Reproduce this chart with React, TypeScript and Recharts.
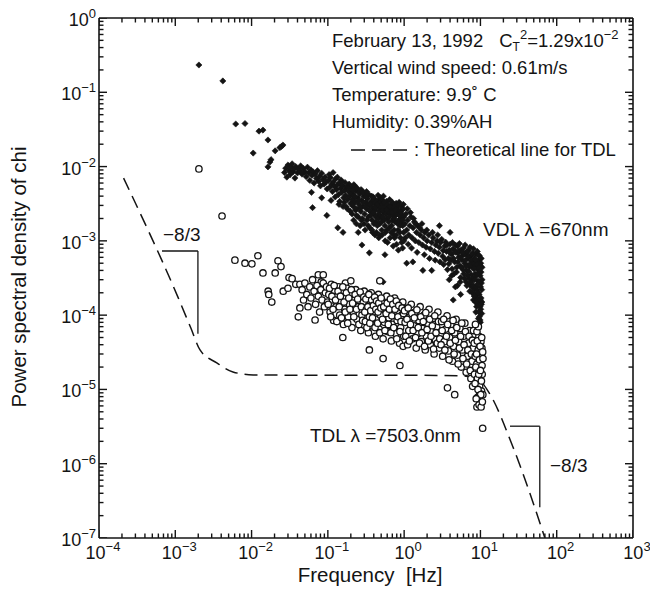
import React from "react";
import { ScatterChart, Scatter, XAxis, YAxis, ReferenceLine } from "recharts";

// axis ticks (log decades)
const xMajor = [1e-4, 1e-3, 1e-2, 1e-1, 1, 10, 100, 1000];
const yMajor = [1e-7, 1e-6, 1e-5, 1e-4, 1e-3, 1e-2, 1e-1, 1];
const minorSteps = [2, 3, 4, 5, 6, 7, 8, 9];

// VDL (lambda = 670nm), [frequency Hz, psd]
const vdlPoints: [number, number][] = [
  [0.00204, 0.233], [0.0042, 0.142], [0.0062, 0.0374], [0.0082, 0.038], [0.0125, 0.03], [0.0141, 0.031],
  [0.0105, 0.0152], [0.0164, 0.0228], [0.0204, 0.0163], [0.0235, 0.018], [0.0247, 0.0187], [0.0258, 0.0195],
  [0.0164, 0.0099], [0.018, 0.0124], [0.0174, 0.0115],
  [0.027, 0.0083], [0.028, 0.0095], [0.029, 0.0072], [0.03, 0.0105], [0.031, 0.0088], [0.032, 0.0078],
  [0.033, 0.0098], [0.034, 0.0109], [0.035, 0.0085], [0.036, 0.0092], [0.037, 0.007], [0.038, 0.01],
  [0.04, 0.0082], [0.041, 0.0093], [0.043, 0.0088], [0.044, 0.0102], [0.046, 0.0079], [0.048, 0.0094],
  [0.05, 0.0085], [0.052, 0.0073], [0.054, 0.0098],
  [0.056, 0.0082], [0.058, 0.0065], [0.06, 0.009], [0.062, 0.0076], [0.064, 0.0085], [0.066, 0.006],
  [0.068, 0.0079], [0.071, 0.0069], [0.073, 0.0088], [0.076, 0.0063], [0.078, 0.0074], [0.08, 0.0055],
  [0.083, 0.0081], [0.086, 0.0067], [0.089, 0.0058], [0.092, 0.0072], [0.095, 0.0062], [0.098, 0.005],
  [0.061, 0.0045], [0.083, 0.0038], [0.063, 0.0028], [0.097, 0.0022], [0.135, 0.0015], [0.158, 0.0013],
  [0.25, 0.0013], [0.28, 0.00088], [0.35, 0.00069], [0.56, 0.00065], [1.08, 0.0005], [1.3, 0.00052],
  [1.76, 0.0004], [2.3, 0.0004], [0.53, 0.00028], [4.4, 0.00016], [9.0, 0.000056], [2.9, 0.0016], [4.0, 0.0013],
  [0.102, 0.0065], [0.105, 0.0052], [0.108, 0.0071], [0.112, 0.0058], [0.115, 0.0046], [0.118, 0.0062],
  [0.122, 0.0054], [0.126, 0.0068], [0.13, 0.0049], [0.134, 0.0057], [0.138, 0.0042], [0.142, 0.006],
  [0.147, 0.0051], [0.152, 0.0045], [0.156, 0.0055], [0.161, 0.0038], [0.166, 0.0048], [0.171, 0.0041],
  [0.176, 0.0053], [0.182, 0.0036], [0.188, 0.0046], [0.194, 0.004], [0.2, 0.0032],
  [0.104, 0.0078], [0.11, 0.0035], [0.117, 0.0083], [0.125, 0.0039], [0.133, 0.0072], [0.14, 0.0031],
  [0.149, 0.0066], [0.158, 0.0029], [0.168, 0.0061], [0.18, 0.0027], [0.19, 0.0058],
  [0.205, 0.0044], [0.21, 0.0036], [0.215, 0.0029], [0.22, 0.0041], [0.227, 0.0033], [0.233, 0.0047],
  [0.24, 0.0027], [0.247, 0.0038], [0.255, 0.0031], [0.262, 0.0043], [0.27, 0.0025], [0.278, 0.0035],
  [0.286, 0.0029], [0.295, 0.004], [0.303, 0.0023], [0.312, 0.0033], [0.32, 0.0027], [0.33, 0.0037],
  [0.34, 0.0021], [0.35, 0.003], [0.36, 0.0025], [0.37, 0.0034], [0.38, 0.0019], [0.39, 0.0028],
  [0.4, 0.0023], [0.41, 0.0032], [0.42, 0.0026], [0.43, 0.0018], [0.44, 0.0029], [0.45, 0.0022],
  [0.46, 0.0035], [0.47, 0.0025], [0.48, 0.0017], [0.49, 0.0027],
  [0.202, 0.0052], [0.208, 0.0023], [0.213, 0.0048], [0.218, 0.0019], [0.224, 0.0055], [0.23, 0.0026],
  [0.236, 0.0017], [0.243, 0.0051], [0.25, 0.0021], [0.258, 0.0045], [0.265, 0.0016], [0.273, 0.0049],
  [0.282, 0.002], [0.29, 0.0033], [0.3, 0.0044], [0.308, 0.0014], [0.316, 0.0039], [0.325, 0.0019],
  [0.335, 0.0031], [0.345, 0.0042], [0.355, 0.0015], [0.365, 0.0022], [0.375, 0.004], [0.385, 0.0013],
  [0.395, 0.0024], [0.405, 0.0037], [0.415, 0.0012], [0.425, 0.0021], [0.435, 0.0034], [0.445, 0.0016],
  [0.455, 0.0041], [0.465, 0.0011], [0.475, 0.003], [0.485, 0.0022], [0.495, 0.0038],
  [0.143, 0.0034], [0.151, 0.0063], [0.164, 0.0033], [0.173, 0.0029], [0.186, 0.0052], [0.197, 0.0025],
  [0.206, 0.0031], [0.219, 0.0057], [0.228, 0.0039], [0.238, 0.0022], [0.252, 0.0035], [0.268, 0.0028],
  [0.276, 0.0019], [0.288, 0.0045], [0.298, 0.0017], [0.31, 0.0029], [0.322, 0.0046], [0.338, 0.0016],
  [0.348, 0.0026], [0.362, 0.0031], [0.378, 0.0014], [0.392, 0.0039], [0.402, 0.0017], [0.418, 0.0028],
  [0.432, 0.0013], [0.448, 0.0031], [0.462, 0.002], [0.478, 0.0012], [0.492, 0.0033],
  [0.5, 0.0021], [0.52, 0.0031], [0.54, 0.0024], [0.56, 0.0016], [0.58, 0.0028], [0.6, 0.002],
  [0.62, 0.0026], [0.64, 0.0015], [0.66, 0.0023], [0.68, 0.003], [0.7, 0.0019], [0.72, 0.0025],
  [0.74, 0.0014], [0.77, 0.0022], [0.8, 0.0027], [0.82, 0.0017], [0.85, 0.0024], [0.88, 0.0013],
  [0.9, 0.002], [0.93, 0.0026], [0.96, 0.0016], [0.99, 0.0021], [0.86, 0.0033], [0.75, 0.0011],
  [0.505, 0.0018], [0.51, 0.0036], [0.515, 0.0012], [0.525, 0.0026], [0.535, 0.004], [0.545, 0.0019],
  [0.555, 0.0029], [0.565, 0.001], [0.575, 0.0023], [0.585, 0.0034], [0.595, 0.0014], [0.61, 0.0031],
  [0.625, 0.0018], [0.635, 0.0024], [0.645, 0.0036], [0.655, 0.0011], [0.67, 0.0027], [0.685, 0.0016],
  [0.7, 0.0033], [0.71, 0.0022], [0.73, 0.0012], [0.745, 0.0029], [0.76, 0.0018], [0.785, 0.0032],
  [0.795, 0.0009], [0.81, 0.0023], [0.83, 0.0014], [0.845, 0.003], [0.86, 0.0019], [0.875, 0.0025],
  [0.895, 0.0011], [0.91, 0.0029], [0.925, 0.0017], [0.94, 0.0022], [0.955, 0.0008], [0.97, 0.0027], [0.985, 0.0013],
  [0.508, 0.0014], [0.528, 0.0021], [0.548, 0.0033], [0.568, 0.0013], [0.588, 0.0026], [0.605, 0.00095],
  [0.63, 0.0021], [0.65, 0.0029], [0.675, 0.0013], [0.695, 0.0024], [0.72, 0.00085], [0.74, 0.002],
  [0.765, 0.0026], [0.79, 0.0012], [0.815, 0.0018], [0.84, 0.00075], [0.865, 0.0022], [0.885, 0.0016],
  [0.905, 0.0024], [0.93, 0.00095], [0.95, 0.0019], [0.975, 0.0031], [0.99, 0.001],
  [1.02, 0.0017], [1.05, 0.0023], [1.08, 0.0014], [1.11, 0.0019], [1.15, 0.0012], [1.19, 0.0016],
  [1.23, 0.0021], [1.27, 0.0011], [1.31, 0.0015], [1.36, 0.0018], [1.4, 0.001], [1.45, 0.0013],
  [1.5, 0.0016], [1.56, 0.00095], [1.62, 0.0012], [1.68, 0.0014], [1.74, 0.00088], [1.8, 0.0011],
  [1.87, 0.0013], [1.94, 0.00082], [2.0, 0.001], [2.1, 0.0012], [2.2, 0.00078], [2.3, 0.00095],
  [2.4, 0.0011], [2.5, 0.00072], [2.6, 0.00088], [2.7, 0.001], [2.8, 0.00068], [2.9, 0.00082], [3.0, 0.00095],
  [1.04, 0.0011], [1.1, 0.0027], [1.13, 0.0009], [1.21, 0.0024], [1.25, 0.0008], [1.33, 0.002],
  [1.42, 0.0017], [1.48, 0.0007], [1.59, 0.0015], [1.71, 0.0017], [1.84, 0.00065], [1.98, 0.0014],
  [2.15, 0.00058], [2.35, 0.0013], [2.55, 0.00055], [2.75, 0.0012], [2.95, 0.00052],
  [3.2, 0.00062], [3.4, 0.00085], [3.6, 0.00072], [3.8, 0.00058], [4.0, 0.0009], [4.2, 0.00066],
  [4.4, 0.00078], [4.6, 0.00052], [4.8, 0.0007], [5.0, 0.00085], [5.2, 0.0006], [5.4, 0.00046],
  [5.6, 0.00075], [5.8, 0.00063], [6.0, 0.0008], [6.2, 0.0005], [6.4, 0.00068], [6.6, 0.0004],
  [6.8, 0.00058], [7.0, 0.00074], [7.2, 0.00045], [7.4, 0.00062], [7.6, 0.00035], [7.8, 0.00052], [8.0, 0.00068],
  [3.1, 0.00105], [3.3, 0.00048], [3.5, 0.00096], [3.7, 0.00041], [3.9, 0.00075], [4.1, 0.00055],
  [4.3, 0.00095], [4.5, 0.00036], [4.7, 0.00088], [4.9, 0.00044], [5.1, 0.00068], [5.3, 0.00092],
  [5.5, 0.00032], [5.7, 0.00056], [5.9, 0.00041], [6.1, 0.00066], [6.3, 0.00088], [6.5, 0.00028],
  [6.7, 0.00072], [6.9, 0.00047], [7.1, 0.00031], [7.3, 0.00082], [7.5, 0.00054], [7.7, 0.00024],
  [7.9, 0.00044], [8.1, 0.00078], [8.3, 0.00058], [8.5, 0.00036], [8.7, 0.00066], [8.9, 0.00046],
  [9.1, 0.00072], [9.3, 0.00029], [9.5, 0.00055], [9.7, 0.00063], [9.9, 0.00034], [10.1, 0.0005],
  [10.3, 0.00027], [10.5, 0.00044], [7.8, 0.0002], [8.1, 0.00016], [8.4, 0.00022], [8.7, 0.00011],
  [9.0, 0.00017], [9.3, 0.00014], [9.6, 0.00019], [9.9, 0.00013], [10.2, 0.00017], [10.4, 0.000105],
  [7.2, 0.00026], [6.8, 0.00034],
  [3.25, 0.00074], [3.45, 0.00056], [3.65, 0.00088], [3.85, 0.00049], [4.05, 0.00068], [4.25, 0.00042],
  [4.45, 0.00058], [4.65, 0.00072], [4.85, 0.00038], [5.05, 0.00052], [5.25, 0.00074], [5.45, 0.00028],
  [5.65, 0.00044], [5.85, 0.0007], [6.05, 0.00036], [6.25, 0.00054], [6.45, 0.00046], [6.65, 0.00025],
  [6.85, 0.00062], [7.05, 0.00039], [7.25, 0.00021], [7.45, 0.00048], [7.65, 0.00066], [7.85, 0.00031],
  [8.05, 0.00025], [8.25, 0.0005], [8.45, 0.00016], [8.65, 0.00033], [8.85, 0.00053], [9.05, 0.00022],
  [9.25, 0.00041], [9.45, 0.00064], [9.65, 0.00015], [9.85, 0.00047], [10.05, 0.00024], [10.25, 0.00058],
  [10.45, 0.00015], [9.4, 0.00009], [9.8, 0.00011], [10.0, 0.00008], [8.8, 0.00019], [7.6, 0.00028],
  [6.2, 0.00031], [5.0, 0.00025], [3.9, 0.0003], [4.7, 0.00024], [5.5, 0.00019], [4.2, 0.00034],
  [8.2, 0.00042], [8.4, 0.0003], [8.6, 0.00056], [8.8, 0.00024], [9.0, 0.00048], [9.2, 0.00036],
  [9.4, 0.0002], [9.6, 0.00044], [9.8, 0.00028], [10.0, 0.00016], [10.2, 0.00038], [10.4, 0.00022],
  [8.3, 0.00018], [8.9, 0.00013], [9.5, 0.00011], [10.1, 0.00012], [9.7, 0.000095], [10.3, 0.00014],
  [9.9, 0.000086], [8.6, 0.00015], [9.1, 0.00026], [10.5, 0.0003],
];

// TDL (lambda = 7503.0nm)
const tdlPoints: [number, number][] = [
  [0.00204, 0.0093], [0.0041, 0.00216],
  [0.00605, 0.00055], [0.0082, 0.0005], [0.0101, 0.00049], [0.0121, 0.00063], [0.0141, 0.00037],
  [0.0204, 0.00037], [0.0222, 0.00054], [0.0243, 0.00045], [0.0165, 0.00021], [0.0168, 0.00019],
  [0.0184, 0.00015], [0.026, 0.00021], [0.03, 0.00023], [0.031, 0.00032], [0.034, 0.00031],
  [0.038, 0.00026], [0.043, 0.00026], [0.043, 0.000125], [0.041, 0.000095], [0.068, 0.000086],
  [0.075, 0.00035], [0.087, 0.00035], [0.082, 0.00028], [0.17, 0.00027], [0.2, 0.00029], [0.48, 0.00029],
  [0.157, 0.00005], [0.35, 0.000034], [0.53, 0.000026], [0.88, 0.000021],
  [3.7, 0.0000105], [4.6, 0.0000085], [9.0, 0.0000058], [10.7, 0.000003],
  [0.046, 0.00022], [0.048, 0.00016], [0.05, 0.00027], [0.053, 0.00019], [0.055, 0.00013], [0.058, 0.00024],
  [0.06, 0.00017], [0.063, 0.0003], [0.066, 0.00021], [0.069, 0.00014], [0.072, 0.00025], [0.075, 0.00018],
  [0.078, 0.00011], [0.081, 0.00022], [0.084, 0.00016], [0.087, 0.00027], [0.09, 0.00013], [0.093, 0.0002],
  [0.096, 0.00024], [0.099, 0.00015],
  [0.103, 0.00019], [0.107, 0.00011], [0.111, 0.00026], [0.115, 0.00016], [0.119, 0.000085], [0.123, 0.00021],
  [0.128, 0.00013], [0.133, 0.00018], [0.138, 0.00024], [0.143, 0.0001], [0.148, 0.00015], [0.154, 0.0002],
  [0.16, 0.000075], [0.166, 0.00012], [0.172, 0.00017], [0.178, 0.00023], [0.185, 0.000095], [0.192, 0.00014],
  [0.199, 0.00019], [0.207, 0.000068], [0.215, 0.00011], [0.223, 0.00016], [0.232, 0.00022], [0.241, 0.000088],
  [0.25, 0.00013], [0.26, 0.00018], [0.27, 0.000062], [0.28, 0.0001], [0.291, 0.00015], [0.3, 0.00021],
  [0.101, 0.00014], [0.105, 0.00023], [0.109, 0.000095], [0.113, 0.00018], [0.117, 0.00012], [0.121, 0.00025],
  [0.126, 0.00016], [0.131, 0.000082], [0.136, 0.00021], [0.141, 0.00013], [0.146, 0.00018], [0.151, 0.000092],
  [0.157, 0.00024], [0.163, 0.00015], [0.169, 0.00011], [0.175, 0.0002], [0.182, 0.000078], [0.188, 0.00017],
  [0.195, 0.00012], [0.203, 0.00022], [0.211, 0.000145], [0.219, 0.000095], [0.228, 0.00019], [0.237, 0.00012],
  [0.246, 0.000165], [0.255, 0.000075], [0.265, 0.000205], [0.275, 0.00013], [0.285, 0.000085], [0.296, 0.000175],
  [0.31, 0.000082], [0.32, 0.00012], [0.33, 0.00017], [0.34, 0.000058], [0.35, 0.000095], [0.36, 0.00014],
  [0.37, 0.0002], [0.38, 0.000072], [0.39, 0.00011], [0.4, 0.00016], [0.42, 0.000052], [0.43, 0.000088],
  [0.44, 0.00013], [0.46, 0.00019], [0.47, 0.000065], [0.49, 0.0001], [0.51, 0.00015], [0.53, 0.000048],
  [0.55, 0.00008], [0.57, 0.00012], [0.59, 0.00018], [0.61, 0.00006], [0.63, 0.000092], [0.65, 0.00014],
  [0.68, 0.000045], [0.7, 0.000075], [0.72, 0.00011], [0.75, 0.00017], [0.78, 0.000056], [0.81, 0.000085],
  [0.84, 0.00013], [0.87, 0.000042], [0.9, 0.000068], [0.93, 0.0001], [0.96, 0.00015], [0.99, 0.000052],
  [0.305, 0.00011], [0.315, 0.000165], [0.325, 0.000068], [0.335, 0.00013], [0.345, 0.00019], [0.355, 0.000078],
  [0.365, 0.000115], [0.375, 0.00016], [0.385, 0.000092], [0.395, 0.000135], [0.41, 0.000175], [0.415, 0.000068],
  [0.425, 0.00012], [0.435, 0.000155], [0.45, 0.000078], [0.455, 0.00011], [0.465, 0.000145], [0.48, 0.000058],
  [0.495, 0.000125], [0.5, 0.00017], [0.52, 0.000088], [0.54, 0.00013], [0.56, 0.000062], [0.58, 0.000105],
  [0.6, 0.000145], [0.62, 0.000075], [0.64, 0.00012], [0.66, 0.000165], [0.67, 0.000058], [0.69, 0.000098],
  [0.71, 0.00014], [0.73, 0.000068], [0.76, 0.00012], [0.79, 0.000155], [0.8, 0.000048], [0.83, 0.000095],
  [0.85, 0.000135], [0.88, 0.00006], [0.91, 0.000082], [0.94, 0.000125], [0.97, 0.000038], [0.98, 0.000105],
  [1.03, 0.00008], [1.07, 0.00012], [1.11, 0.00004], [1.15, 0.000062], [1.19, 0.000095], [1.24, 0.00014],
  [1.29, 0.000048], [1.34, 0.000072], [1.39, 0.00011], [1.44, 0.000036], [1.5, 0.000056], [1.56, 0.000085],
  [1.62, 0.00013], [1.68, 0.000044], [1.75, 0.000066], [1.82, 0.0001], [1.89, 0.000034], [1.96, 0.000052],
  [2.04, 0.000078], [2.12, 0.00012], [2.2, 0.00004], [2.29, 0.00006], [2.38, 0.00009], [2.47, 0.00003],
  [2.57, 0.000047], [2.67, 0.00007], [2.77, 0.00011], [2.88, 0.000036], [2.99, 0.000055],
  [1.01, 0.000115], [1.05, 0.000052], [1.09, 0.000088], [1.13, 0.000125], [1.17, 0.000045], [1.21, 0.000075],
  [1.26, 0.000105], [1.31, 0.000062], [1.36, 0.000092], [1.41, 0.00005], [1.47, 0.000118], [1.53, 0.000068],
  [1.59, 0.000042], [1.65, 0.000095], [1.71, 0.000058], [1.78, 0.000082], [1.85, 0.000038], [1.92, 0.000108],
  [2.0, 0.000064], [2.08, 0.000045], [2.16, 0.000088], [2.25, 0.000052], [2.34, 0.000072], [2.43, 0.000035],
  [2.52, 0.000098], [2.62, 0.000058], [2.72, 0.000042], [2.82, 0.000082], [2.93, 0.000048],
  [3.1, 0.000082], [3.2, 0.000028], [3.35, 0.000044], [3.5, 0.000065], [3.65, 0.000098], [3.8, 0.000033],
  [3.95, 0.00005], [4.1, 0.000075], [4.3, 0.000024], [4.45, 0.000038], [4.6, 0.000058], [4.8, 0.000088],
  [5.0, 0.000029], [5.2, 0.000044], [5.4, 0.000066], [5.6, 0.00002], [5.8, 0.000034], [6.0, 0.000052],
  [6.25, 0.000078], [6.5, 0.000017], [6.75, 0.000028], [7.0, 0.000042], [7.25, 0.000062], [7.5, 0.000014],
  [7.75, 0.000024], [8.0, 0.000036], [8.25, 0.000054],
  [3.05, 0.00004], [3.15, 0.000062], [3.3, 0.000088], [3.42, 0.000034], [3.58, 0.000052], [3.72, 0.000075],
  [3.88, 0.000025], [4.02, 0.000042], [4.2, 0.000062], [4.38, 0.000085], [4.52, 0.00003], [4.7, 0.000046],
  [4.9, 0.000068], [5.1, 0.000022], [5.3, 0.000036], [5.5, 0.000052], [5.7, 0.000078], [5.9, 0.000026],
  [6.1, 0.00004], [6.35, 0.00006], [6.6, 0.000022], [6.85, 0.000034], [7.1, 0.000052], [7.35, 0.000018],
  [7.6, 0.00003], [7.85, 0.000046], [8.1, 0.000062], [8.35, 0.000016], [8.55, 0.000028], [8.75, 0.000042],
  [8.95, 0.000022], [9.15, 0.000014], [9.35, 0.000034], [9.55, 0.000052], [9.75, 0.000011], [9.95, 0.000028],
  [10.15, 0.000044], [10.35, 0.0000095], [10.55, 0.000016], [10.75, 0.0000085], [9.2, 0.0000078],
  [9.8, 0.0000088], [10.45, 0.000036], [8.3, 0.000042], [7.9, 0.000011],
  [8.5, 0.000012], [8.7, 0.00002], [8.9, 0.00003], [9.1, 0.000045], [9.3, 0.00001], [9.5, 0.000016],
  [9.7, 0.000025], [9.9, 0.000038], [10.1, 0.0000085], [10.3, 0.000013], [10.5, 0.000021], [10.7, 0.000032],
  [8.8, 0.0000075], [9.6, 0.0000062], [10.2, 0.0000058], [10.6, 0.0000068], [9.0, 0.00006], [10.4, 0.00005],
  [9.4, 0.00007], [8.6, 0.000075], [10.0, 0.000018], [10.8, 0.000026],
];

// theoretical line for TDL (dashed)
const theoryPoints: [number, number][] = [
  [0.00021, 0.007], [0.00108, 0.000176], [0.0016, 0.000067], [0.00211, 0.000034], [0.0035, 0.0000228],
  [0.0057, 0.0000172], [0.0105, 0.0000157], [0.1, 0.0000155], [1, 0.0000155], [6, 0.0000152],
  [9.5, 0.0000135], [13, 0.000009], [26.7, 0.00000168], [70, 0.0000001],
];

// -8/3 slope marks, each a pair of points
const slopeMarks: [number, number][][] = [
  [[0.00067, 0.00073], [0.00198, 0.00073]],
  [[0.00198, 0.00073], [0.00198, 0.000056]],
  [[24.4, 0.0000032], [60, 0.0000032]],
  [[60, 0.0000032], [60, 0.00000026]],
];

const withMinor = (majors: number[]) => {
  const out: number[] = [];
  majors.forEach((m, i) => {
    out.push(m);
    if (i < majors.length - 1) minorSteps.forEach((s) => out.push(m * s));
  });
  return out;
};
const xTicks = withMinor(xMajor);
const yTicks = withMinor(yMajor);
const X_MIN = xMajor[0];
const X_MAX = xMajor[xMajor.length - 1];
const Y_MIN = yMajor[0];
const Y_MAX = yMajor[yMajor.length - 1];

const W = 650;
const H = 600;
const MARGIN = { top: 18, right: 17, bottom: 0, left: 0 };

const INK = "#141414";
const FONT = "'Liberation Sans', Arial, Helvetica, sans-serif";

const isMajor = (v: number, majors: number[]) => majors.some((m) => Math.abs(m - v) / m < 1e-9);
const expText = (v: number) => {
  const e = Math.round(Math.log10(v));
  return e < 0 ? "\u2212" + Math.abs(e) : String(e);
};

// frame tick marks, placed through the chart scales as point series on the four edges
const xMinor = xTicks.filter((t) => !isMajor(t, xMajor));
const yMinor = yTicks.filter((t) => !isMajor(t, yMajor));
const onBottom = (ts: number[]) => ts.map((f) => ({ f, p: Y_MIN }));
const onTop = (ts: number[]) => ts.map((f) => ({ f, p: Y_MAX }));
const onLeft = (ts: number[]) => ts.map((p) => ({ f: X_MIN, p }));
const onRight = (ts: number[]) => ts.map((p) => ({ f: X_MAX, p }));

const TickMark = ({ cx, cy, tdx, tdy }: any) => (
  <path d={`M${cx},${cy}l${tdx},${tdy}`} stroke={INK} strokeWidth={1.4} fill="none" />
);

const PowerLabel = ({ x, y, v, anchor }: any) => (
  <text x={x} y={y} textAnchor={anchor} fontFamily={FONT} fontSize={18} fill={INK} stroke="none">
    <tspan>10</tspan>
    <tspan dy={-8} fontSize={13}>{expText(v)}</tspan>
  </text>
);

const BottomTick = ({ x, y, payload }: any) => <PowerLabel x={x + 4} y={y + 21} v={payload.value} anchor="middle" />;
const LeftTick = ({ x, y, payload }: any) => <PowerLabel x={x - 3} y={y + 8} v={payload.value} anchor="end" />;

const FilledDiamond = ({ cx, cy }: any) => {
  const d = 3.1;
  return <polygon points={`${cx},${cy - d} ${cx + d},${cy} ${cx},${cy + d} ${cx - d},${cy}`} fill={INK} stroke={INK} strokeWidth={0.6} />;
};
const OpenCircle = ({ cx, cy }: any) => (
  <circle cx={cx} cy={cy} r={3.2} fill="#ffffff" stroke={INK} strokeWidth={1.3} />
);
const NoDot = () => <g />;

const toXY = (pts: [number, number][]) => pts.map(([f, p]) => ({ f, p }));

const textStyle = { fontFamily: FONT, fill: INK, whiteSpace: "pre" as const };

const MAJ = 8;
const MIN = 4.5;

export default function App() {
  return (
    <div style={{ position: "absolute", left: 0, top: 0, width: W, height: H, background: "#fff" }}>
      <ScatterChart width={W} height={H} margin={MARGIN}>
        <XAxis
          dataKey="f"
          type="number"
          scale="log"
          domain={[X_MIN, X_MAX]}
          allowDataOverflow
          ticks={xMajor}
          interval={0}
          height={62}
          tickSize={0}
          tickMargin={0}
          tickLine={false}
          tick={<BottomTick />}
          axisLine={{ stroke: INK, strokeWidth: 1.6 }}
        />
        <YAxis
          dataKey="p"
          type="number"
          scale="log"
          domain={[Y_MIN, Y_MAX]}
          allowDataOverflow
          ticks={yMajor}
          interval={0}
          width={99}
          tickSize={0}
          tickMargin={0}
          tickLine={false}
          tick={<LeftTick />}
          axisLine={{ stroke: INK, strokeWidth: 1.6 }}
        />
        <ReferenceLine x={X_MAX} stroke={INK} strokeWidth={1.6} ifOverflow="visible" />
        <ReferenceLine y={Y_MAX} stroke={INK} strokeWidth={1.6} ifOverflow="visible" />
        {slopeMarks.map((seg, i) => (
          <ReferenceLine
            key={i}
            segment={seg.map(([x, y]) => ({ x, y }))}
            stroke={INK}
            strokeWidth={1.3}
          />
        ))}
        <Scatter data={onBottom(xMajor)} shape={<TickMark tdx={0} tdy={-MAJ} />} isAnimationActive={false} legendType="none" />
        <Scatter data={onBottom(xMinor)} shape={<TickMark tdx={0} tdy={-MIN} />} isAnimationActive={false} legendType="none" />
        <Scatter data={onTop(xMajor)} shape={<TickMark tdx={0} tdy={MAJ} />} isAnimationActive={false} legendType="none" />
        <Scatter data={onTop(xMinor)} shape={<TickMark tdx={0} tdy={MIN} />} isAnimationActive={false} legendType="none" />
        <Scatter data={onLeft(yMajor)} shape={<TickMark tdx={MAJ} tdy={0} />} isAnimationActive={false} legendType="none" />
        <Scatter data={onLeft(yMinor)} shape={<TickMark tdx={MIN} tdy={0} />} isAnimationActive={false} legendType="none" />
        <Scatter data={onRight(yMajor)} shape={<TickMark tdx={-MAJ} tdy={0} />} isAnimationActive={false} legendType="none" />
        <Scatter data={onRight(yMinor)} shape={<TickMark tdx={-MIN} tdy={0} />} isAnimationActive={false} legendType="none" />
        <Scatter
          name="Theoretical line for TDL"
          data={toXY(theoryPoints)}
          line={{ stroke: INK, strokeWidth: 1.5, strokeDasharray: "13 7" }}
          lineJointType="monotoneX"
          shape={<NoDot />}
          isAnimationActive={false}
        />
        <Scatter name="VDL" data={toXY(vdlPoints)} shape={<FilledDiamond />} isAnimationActive={false} />
        <Scatter name="TDL" data={toXY(tdlPoints)} shape={<OpenCircle />} isAnimationActive={false} />
      </ScatterChart>
      <svg
        width={W}
        height={H}
        style={{ position: "absolute", left: 0, top: 0, pointerEvents: "none" }}
      >
        <g fontSize={18.5} style={textStyle}>
          <text x={332} y={47}>
            {"February 13, 1992"}
            <tspan dx={16}>C</tspan>
            <tspan dy={4} fontSize={12}>T</tspan>
            <tspan dy={-12} fontSize={13}>2</tspan>
            <tspan dy={8}>=1.29x10</tspan>
            <tspan dy={-8} fontSize={13}>{"\u22122"}</tspan>
          </text>
          <text x={332} y={74}>Vertical wind speed: 0.61m/s</text>
          <text x={332} y={101}>{"Temperature: 9.9\u02da  C"}</text>
          <text x={332} y={128}>Humidity: 0.39%AH</text>
          <line x1={351} x2={412} y1={150} y2={150} stroke={INK} strokeWidth={1.5} strokeDasharray="14 7" />
          <text x={414} y={156}>: Theoretical line for TDL</text>
          <text x={483} y={236} fontSize={19}>{"VDL  \u03bb =670nm"}</text>
          <text x={310} y={442} fontSize={19}>{"TDL  \u03bb =7503.0nm"}</text>
          <text x={163} y={241} fontSize={19}>{"\u22128/3"}</text>
          <text x={550} y={472} fontSize={19}>{"\u22128/3"}</text>
        </g>
        <text x={370} y={582} textAnchor="middle" fontSize={20.5} style={textStyle}>
          {"Frequency  [Hz]"}
        </text>
        <text
          x={26}
          y={277}
          textAnchor="middle"
          fontSize={20.5}
          transform="rotate(-90 26 277)"
          style={textStyle}
        >
          Power spectral density of chi
        </text>
      </svg>
    </div>
  );
}
